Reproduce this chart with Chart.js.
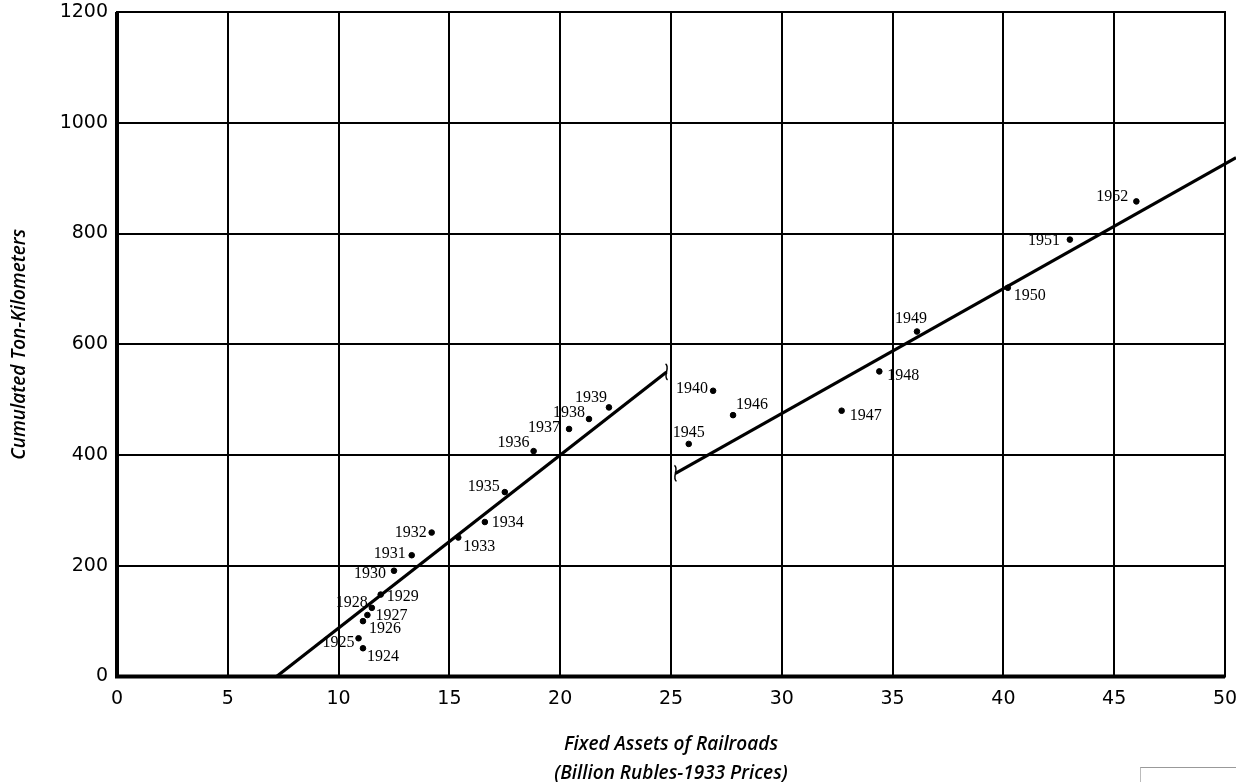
<!DOCTYPE html>
<html>
<head>
<meta charset="utf-8">
<script src="https://cdn.jsdelivr.net/npm/chart.js@4/dist/chart.umd.min.js"></script>
<style>
  html, body { margin: 0; padding: 0; background: #fff; }
  #wrap { position: relative; width: 1236px; height: 782px; }
  #corner { position: absolute; left: 1140px; top: 767px; width: 96px; height: 15px;
            border-top: 1px solid #999; border-left: 1px solid #bbb; }
</style>
</head>
<body>
<div id="wrap">
  <canvas id="myChart" width="1236" height="782"></canvas>
  <div id="corner"></div>
</div>
<script>
// years and values
var years = ['1924', '1925', '1926', '1927', '1928', '1929', '1930', '1931', '1932', '1933',
             '1934', '1935', '1936', '1937', '1938', '1939', '1940', '1945', '1946', '1947',
             '1948', '1949', '1950', '1951', '1952'];
var fixedAssets = [11.1, 10.9, 11.1, 11.3, 11.5, 11.9, 12.5, 13.3, 14.2, 15.4,
                   16.6, 17.5, 18.8, 20.4, 21.3, 22.2, 26.9, 25.8, 27.8, 32.7,
                   34.4, 36.1, 40.2, 43.0, 46.0];
var tonKm = [51, 69, 100, 111, 124, 148, 191, 219, 260, 251,
             279, 333, 407, 447, 465, 486, 516, 420, 472, 480,
             551, 623, 702, 789, 858];
// fitted lines (two segments, both ends)
var fitEarlyX = [7.2, 24.8];
var fitEarlyY = [0, 550];
var fitLateX = [25.2, 50.5];
var fitLateY = [367, 937];
var xTicks = [0, 5, 10, 15, 20, 25, 30, 35, 40, 45, 50];
var yTicks = [0, 200, 400, 600, 800, 1000, 1200];

// where each year label sits next to its dot: [dx, dy, align]
var labelPlace = [
    [4, 9, 'left'], [-4, 5, 'right'], [6, 8, 'left'], [8, 1, 'left'], [-4, -5, 'right'],
    [6, 2, 'left'], [-8, 3, 'right'], [-6, -1, 'right'], [-5, 0, 'right'], [5, 9, 'left'],
    [7, 1, 'left'], [-5, -5, 'right'], [-4, -8, 'right'], [-9, -1, 'right'], [-4, -6, 'right'],
    [-2, -10, 'right'], [-5, -2, 'right'], [0, -11, 'center'], [3, -10, 'left'], [8, 5, 'left'],
    [8, 4, 'left'], [-6, -13, 'center'], [6, 8, 'left'], [-10, 1, 'right'], [-8, -5, 'right']
];

function toPoints(xs, ys) {
    var out = [];
    for (var i = 0; i < xs.length; i++) {
        out.push({x: xs[i], y: ys[i]});
    }
    return out;
}

// year labels next to the dots
var yearLabels = {
    id: 'yearLabels',
    afterDatasetsDraw: function (chart) {
        var ctx = chart.ctx;
        var meta = chart.getDatasetMeta(0);
        ctx.save();
        ctx.font = '16px "Liberation Serif", serif';
        ctx.fillStyle = '#000';
        ctx.textBaseline = 'middle';
        meta.data.forEach(function (pt, i) {
            var p = labelPlace[i];
            ctx.textAlign = p[2];
            ctx.fillText(years[i], pt.x + p[0], pt.y + p[1]);
        });
        ctx.restore();
    }
};

// little break marks where the fitted line is cut
var breakMarks = {
    id: 'breakMarks',
    afterDatasetsDraw: function (chart) {
        var ctx = chart.ctx;
        var a = chart.getDatasetMeta(1).data;
        var b = chart.getDatasetMeta(2).data;
        var ends = [a[a.length - 1], b[0]];
        ctx.save();
        ctx.strokeStyle = '#000';
        ctx.lineWidth = 1.5;
        ends.forEach(function (e) {
            ctx.beginPath();
            ctx.moveTo(e.x - 1, e.y - 8);
            ctx.bezierCurveTo(e.x + 4, e.y - 5, e.x - 4, e.y + 5, e.x + 1, e.y + 8);
            ctx.stroke();
        });
        ctx.restore();
    }
};

// heavier left and bottom axis lines
var frame = {
    id: 'frame',
    afterDraw: function (chart) {
        var ca = chart.chartArea;
        var ctx = chart.ctx;
        ctx.save();
        ctx.strokeStyle = '#000';
        ctx.lineWidth = 2;
        ctx.strokeRect(ca.left, ca.top, ca.right - ca.left, ca.bottom - ca.top);
        ctx.lineWidth = 4;
        ctx.beginPath();
        ctx.moveTo(ca.left, ca.top);
        ctx.lineTo(ca.left, ca.bottom);
        ctx.lineTo(ca.right, ca.bottom);
        ctx.stroke();
        ctx.restore();
    }
};

function noEdgePadding(scale) {
    scale.paddingTop = 0;
    scale.paddingBottom = 0;
    scale.paddingLeft = 0;
    scale.paddingRight = 0;
}

var tickFont = {family: '"DejaVu Sans", sans-serif', size: 19};
var titleFamily = '"Open Sans", sans-serif';

var ctx = document.getElementById('myChart');
var myChart = new Chart(ctx, {
    type: 'scatter',
    data: {
        datasets: [{
            label: 'Years',
            data: toPoints(fixedAssets, tonKm),
            backgroundColor: '#000',
            borderColor: '#000',
            pointRadius: 2.8,
            pointHoverRadius: 2.8,
            showLine: false
        }, {
            label: 'Fit 1924-1939',
            data: toPoints(fitEarlyX, fitEarlyY),
            borderColor: '#000',
            borderWidth: 3.2,
            pointRadius: 0,
            showLine: true
        }, {
            label: 'Fit 1945-1952',
            data: toPoints(fitLateX, fitLateY),
            borderColor: '#000',
            borderWidth: 3.2,
            pointRadius: 0,
            showLine: true,
            clip: false
        }]
    },
    options: {
        responsive: false,
        animation: false,
        events: [],
        layout: {padding: {top: 12, right: 11, left: 0, bottom: 0}},
        plugins: {
            legend: {display: false},
            tooltip: {enabled: false}
        },
        scales: {
            x: {
                type: 'linear',
                min: 0,
                max: 50,
                afterBuildTicks: function (scale) {
                    scale.ticks = xTicks.map(function (v) { return {value: v}; });
                },
                afterFit: function (scale) { scale.height = 105.5; noEdgePadding(scale); },
                grid: {color: '#000', lineWidth: 2, drawTicks: false},
                border: {display: false},
                ticks: {color: '#000', font: tickFont, padding: 11, maxRotation: 0,
                        callback: function (v) { return String(v); }},
                title: {
                    display: true,
                    text: ['Fixed Assets of Railroads', '(Billion Rubles-1933 Prices)'],
                    color: '#000',
                    font: {family: titleFamily, size: 19, style: 'italic', weight: '600', lineHeight: '29px'},
                    padding: {top: 0, bottom: -6}
                }
            },
            y: {
                type: 'linear',
                min: 0,
                max: 1200,
                afterBuildTicks: function (scale) {
                    scale.ticks = yTicks.map(function (v) { return {value: v}; });
                },
                afterFit: function (scale) { scale.width = 117; noEdgePadding(scale); },
                grid: {color: '#000', lineWidth: 2, drawTicks: false},
                border: {display: false},
                ticks: {color: '#000', font: tickFont, padding: 9,
                        callback: function (v) { return String(v); }},
                title: {
                    display: true,
                    text: 'Cumulated Ton-Kilometers',
                    color: '#000',
                    font: {family: titleFamily, size: 19, style: 'italic', weight: '600', lineHeight: '22px'},
                    padding: {top: 9, bottom: 0}
                }
            }
        }
    },
    plugins: [yearLabels, breakMarks, frame]
});
</script>
</body>
</html>
